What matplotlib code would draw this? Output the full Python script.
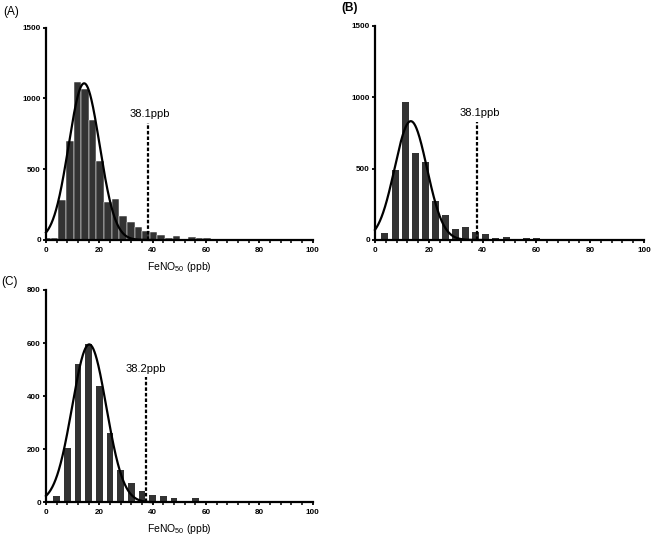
import numpy as np
import matplotlib
matplotlib.use("Agg")
import matplotlib.pyplot as plt
from matplotlib.ticker import MultipleLocator

plt.rcParams['font.family'] = ['Liberation Sans', 'DejaVu Sans']
plt.rcParams['mathtext.fontset'] = 'custom'
plt.rcParams['mathtext.rm'] = 'Liberation Sans'
plt.rcParams['mathtext.it'] = 'Liberation Sans:italic'
plt.rcParams['mathtext.bf'] = 'Liberation Sans:bold'

# ---------------- data ----------------
# Panel A (bin centres in ppb, counts)
a_centers = [0.31, 3.17, 6.03, 8.89, 11.75, 14.61, 17.47, 20.33, 23.19, 26.05,
             28.91, 31.77, 34.63, 37.49, 40.35, 43.21, 46.07, 48.93, 51.79,
             54.65, 57.51, 60.37, 63.23, 66.09]
a_counts = [12, 12, 283, 702, 1116, 1068, 848, 556, 271, 292,
            172, 128, 92, 66, 54, 38, 16, 31, 8,
            19, 14, 14, 5, 10]
a_fit = (1107, 14.3, 5.8)      # amplitude, mean, SD
a_cut = 38.1
a_cut_top = 829
a_label = "38.1ppb"

# Panel B
b_centers = [3.7, 7.45, 11.2, 14.95, 18.7, 22.45, 26.2, 29.95, 33.7, 37.45,
             41.2, 44.95, 48.7, 52.45, 56.2, 59.95]
b_counts = [47, 490, 968, 612, 545, 272, 172, 77, 88, 53,
            45, 12, 20, 0, 14, 14]
b_fit = (833, 13.3, 6.0)
b_cut = 38.1
b_cut_top = 829
b_label = "38.1ppb"

# Panel C
c_centers = [4, 8, 12, 16, 20, 24, 28, 32, 36, 40, 44, 48, 52, 56]
c_counts = [25, 206, 520, 595, 440, 261, 121, 72, 41, 27, 24, 16, 4, 16]
c_fit = (595, 16.2, 6.4)
c_cut = 37.5
c_cut_top = 473
c_label = "38.2ppb"

xlabel = "FeNO$_{50}$ (ppb)"

# ---------------- figure ----------------
W, H = 669, 540
fig = plt.figure(figsize=(W / 100, H / 100), dpi=100)

def frac(x0, x1, ytop, ybot):
    return [x0 / W, 1 - ybot / H, (x1 - x0) / W, (ybot - ytop) / H]

bar_color = '#333333'

def panel(rect, centers, counts, width, edge, fit, cut, cut_top, label,
          ymax, ystep, label_xy, show_xlabel):
    ax = fig.add_axes(rect)
    ax.bar(centers, counts, width=width, color=bar_color,
           edgecolor=edge, linewidth=0.35 if edge != 'none' else 0, zorder=1)
    amp, mu, sd = fit
    xs = np.linspace(0, 40, 400)
    ax.plot(xs, amp * np.exp(-(xs - mu) ** 2 / (2 * sd ** 2)), color='black',
            lw=1.6, zorder=3, clip_on=False)
    ax.plot([cut, cut], [0, cut_top], color='black', lw=1.6,
            dashes=(1.6, 0.9), zorder=4)
    ax.text(label_xy[0], label_xy[1], label, fontsize=8, ha='center',
            va='center', zorder=5)
    ax.set_xlim(0, 100)
    ax.set_ylim(0, ymax)
    ax.xaxis.set_major_locator(MultipleLocator(20))
    ax.xaxis.set_minor_locator(MultipleLocator(4))
    ax.yaxis.set_major_locator(MultipleLocator(ystep))
    for s in ['top', 'right']:
        ax.spines[s].set_visible(False)
    for s in ['left', 'bottom']:
        ax.spines[s].set_linewidth(1.6)
        ax.spines[s].set_zorder(6)
    ax.tick_params(axis='both', which='major', length=2.5, width=1.3,
                   labelsize=5.8, pad=2.5)
    ax.tick_params(axis='x', which='minor', length=2, width=1.1)
    ax.tick_params(axis='y', pad=1.2)
    for t in ax.get_xticklabels() + ax.get_yticklabels():
        t.set_fontweight('bold')
    if show_xlabel:
        ax.set_xlabel(xlabel, fontsize=7.5)
        ax.xaxis.set_label_coords(0.5, -0.095)
    return ax

panel(frac(46, 312.7, 27.7, 240), a_centers, a_counts, 2.86, 'white',
      a_fit, a_cut, a_cut_top, a_label, 1500, 500, (39.0, 890), True)
panel(frac(375, 644, 26, 240), b_centers, b_counts, 2.6, 'none',
      b_fit, b_cut, b_cut_top, b_label, 1500, 500, (39.0, 890), False)
panel(frac(46, 312.7, 290, 502.3), c_centers, c_counts, 2.6, 'none',
      c_fit, c_cut, c_cut_top, c_label, 800, 200, (37.4, 502), True)

fig.text(11 / W, 1 - 12.5 / H, "(A)", fontsize=8.5, ha='center', va='center')
fig.text(350 / W, 1 - 8 / H, "(B)", fontsize=8.5, ha='center', va='center',
         fontweight='bold')
fig.text(9.5 / W, 1 - 282 / H, "(C)", fontsize=8.5, ha='center', va='center')

fig.savefig("out.png", dpi=100)
